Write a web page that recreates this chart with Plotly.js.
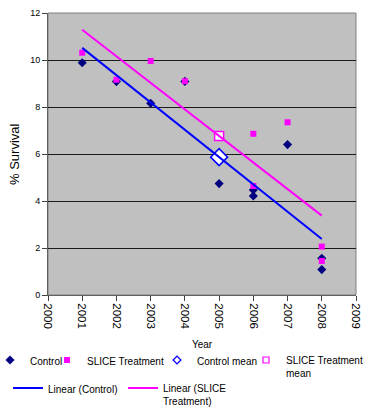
<!DOCTYPE html>
<html>
<head>
<meta charset="utf-8">
<script src="https://cdn.plot.ly/plotly-3.0.1.min.js"></script>
<style>html,body{margin:0;padding:0;background:#fff;}#chart{width:385px;height:411px;}</style>
</head>
<body>
<div id="chart"></div>
<script>
// Data
const controlYears = [2001, 2002, 2003, 2004, 2005, 2006, 2006, 2007, 2008, 2008];
const controlVals  = [9.88, 9.08, 8.16, 9.09, 4.74, 4.47, 4.21, 6.40, 1.56, 1.08];
const sliceYears   = [2001, 2002, 2003, 2004, 2006, 2006, 2007, 2008, 2008];
const sliceVals    = [10.31, 9.16, 9.96, 9.10, 6.86, 4.64, 7.35, 2.06, 1.45];
const xTickVals = [2000, 2001, 2002, 2003, 2004, 2005, 2006, 2007, 2008, 2009];
const yTickVals = [0, 2, 4, 6, 8, 10, 12];
const xTitle = 'Year';
const yTitle = '% Survival';

function mean(a) { return a.reduce((s, v) => s + v, 0) / a.length; }
function linfit(xs, ys) {
  const mx = mean(xs), my = mean(ys);
  let sxy = 0, sxx = 0;
  for (let i = 0; i < xs.length; i++) { sxy += (xs[i] - mx) * (ys[i] - my); sxx += (xs[i] - mx) ** 2; }
  const b = sxy / sxx, a = my - b * mx;
  const x0 = Math.min(...xs), x1 = Math.max(...xs);
  return { x: [x0, x1], y: [a + b * x0, a + b * x1] };
}
const cFit = linfit(controlYears, controlVals);
const sFit = linfit(sliceYears, sliceVals);

const FONT = 'Liberation Sans, Arial, sans-serif';
const NAVY = '#000080', MAG = '#ff00ff', BLUE = '#0000ff';

const traces = [
  { type: 'scatter', mode: 'markers', name: 'Control', x: controlYears, y: controlVals,
    marker: { symbol: 'diamond', size: 7, color: NAVY }, legend: 'legend' },
  { type: 'scatter', mode: 'markers', name: 'SLICE Treatment', x: sliceYears, y: sliceVals,
    marker: { symbol: 'square', size: 6, color: MAG }, legend: 'legend2' },
  { type: 'scatter', mode: 'markers', name: 'Control mean', x: [mean(controlYears)], y: [mean(controlVals)],
    marker: { symbol: 'diamond', size: 13, color: '#ffffff', line: { color: BLUE, width: 1.5 } },
    showlegend: false },
  { type: 'scatter', mode: 'markers', name: 'SLICE Treatment mean', x: [mean(sliceYears)], y: [mean(sliceVals)],
    marker: { symbol: 'square', size: 9, color: '#ffffff', line: { color: MAG, width: 1.5 } },
    showlegend: false },
  // legend entries for the two mean markers (drawn at legend size)
  { type: 'scatter', mode: 'markers', name: 'Control mean', x: [null], y: [null],
    marker: { symbol: 'diamond', size: 6, color: '#ffffff', line: { color: BLUE, width: 1.3 } }, legend: 'legend3' },
  { type: 'scatter', mode: 'markers', name: 'SLICE Treatment<br>mean', x: [null], y: [null],
    marker: { symbol: 'square', size: 6, color: '#ffffff', line: { color: MAG, width: 1.2 } }, legend: 'legend4' },
  { type: 'scatter', mode: 'lines', name: 'Linear (Control)', x: cFit.x, y: cFit.y,
    line: { color: BLUE, width: 2 }, legend: 'legend5' },
  { type: 'scatter', mode: 'lines', name: 'Linear (SLICE<br>Treatment)', x: sFit.x, y: sFit.y,
    line: { color: MAG, width: 2 }, legend: 'legend6' }
];

const W = 385, H = 411;
const M = { l: 48, r: 29, t: 13, b: 116 };
function leg(textX, topY) {
  const start = textX - 40;
  return { xref: 'container', yref: 'container', x: Math.max(0, start) / W, y: 1 - topY / H,
    indentation: Math.min(0, start),
    xanchor: 'left', yanchor: 'top', bgcolor: 'rgba(0,0,0,0)', borderwidth: 0,
    font: { family: FONT, size: 10, color: '#000' }, valign: 'top', itemsizing: 'trace' };
}

const layout = {
  width: W, height: H,
  margin: { l: M.l, r: M.r, t: M.t, b: M.b, pad: 0, autoexpand: false },
  paper_bgcolor: '#ffffff', plot_bgcolor: '#c0c0c0',
  font: { family: FONT, size: 10, color: '#000' },
  showlegend: true,
  xaxis: {
    range: [2000, 2009], tickvals: xTickVals, ticktext: xTickVals.map(String),
    tickangle: 90, ticks: 'outside', ticklen: 5, tickcolor: '#404040',
    tickfont: { family: FONT, size: 11.5, color: '#000' },
    showgrid: false, zeroline: false, showline: true, linecolor: '#606060', linewidth: 1,
    title: { text: xTitle, standoff: 12, font: { family: FONT, size: 10, color: '#000' } }, automargin: true
  },
  yaxis: {
    range: [0, 12], tickvals: yTickVals, ticktext: yTickVals.map(String),
    ticks: 'outside', ticklen: 5, tickcolor: '#404040',
    tickfont: { family: FONT, size: 9, color: '#000' },
    showgrid: true, gridcolor: '#1a1a1a', gridwidth: 1, zeroline: false,
    showline: true, linecolor: '#606060', linewidth: 1, automargin: false
  },
  annotations: [
    { text: yTitle, xref: 'paper', yref: 'paper', x: (14 - M.l) / (W - M.l - M.r), y: 0.5,
      xanchor: 'center', yanchor: 'middle', textangle: -90, showarrow: false,
      font: { family: FONT, size: 13, color: '#000' } }
  ],
  shapes: [
    { type: 'rect', xref: 'paper', yref: 'paper', x0: 0, x1: 1, y0: 0, y1: 1,
      line: { color: '#808080', width: 1 }, fillcolor: 'rgba(0,0,0,0)', layer: 'below' }
  ],
  legend: leg(30, 347),
  legend2: leg(87, 347),
  legend3: leg(197, 347),
  legend4: leg(286, 347),
  legend5: leg(48, 375),
  legend6: leg(163, 375)
};

Plotly.newPlot('chart', traces, layout, { displayModeBar: false, staticPlot: true });
</script>
</body>
</html>
